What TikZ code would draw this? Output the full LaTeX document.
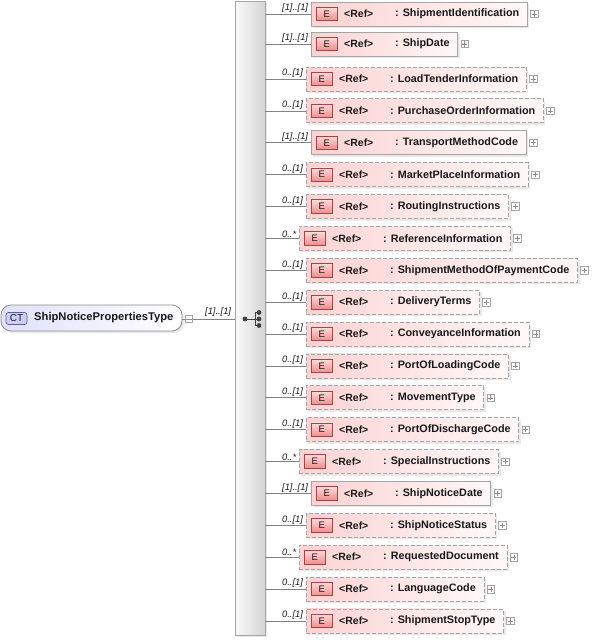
\documentclass[tikz,border=0pt]{standalone}
\usepackage{fontspec}
\setmainfont{Liberation Sans}
\usetikzlibrary{fit,shadows,calc}
\pgfdeclarelayer{bg}
\pgfsetlayers{bg,main}
\definecolor{boxL}{RGB}{252,210,210}
\definecolor{boxR}{RGB}{255,248,248}
\definecolor{boxline}{RGB}{165,165,165}
\definecolor{eline}{RGB}{160,70,70}
\definecolor{eTop}{RGB}{255,218,218}
\definecolor{eBot}{RGB}{238,140,140}
\definecolor{connc}{RGB}{130,130,130}
\definecolor{txt}{RGB}{25,25,25}
\definecolor{ctL}{RGB}{224,224,250}
\definecolor{ctIcon}{RGB}{205,205,245}
\definecolor{ctLine}{RGB}{95,95,150}
\definecolor{barL}{RGB}{250,250,250}
\definecolor{barR}{RGB}{212,212,212}
\tikzset{
  shad/.style={drop shadow={shadow xshift=2pt,shadow yshift=-2pt,fill=black!17}},
  elbox/.style={draw=boxline,line width=0.8pt,left color=boxL,right color=boxR,inner sep=0pt,shad},
  optbox/.style={elbox,dash pattern=on 4pt off 2pt},
  eicon/.style={draw=eline,line width=0.7pt,top color=eTop,bottom color=eBot,minimum width=21pt,minimum height=13.5pt,inner sep=0pt,font=\fontsize{9.5}{9.5}\selectfont,text=txt},
  reftxt/.style={font=\bfseries\fontsize{10.5}{12}\selectfont,text=txt,inner sep=0pt,anchor=west},
  nametxt/.style={font=\bfseries\fontsize{10.8}{12}\selectfont,text=txt,inner sep=0pt,anchor=west},
  cardtxt/.style={font=\itshape\fontsize{9.3}{10}\selectfont,text=txt,inner sep=0pt,anchor=south west},
  plusbox/.style={draw=boxline,fill=white,minimum size=7.5pt,inner sep=0pt,line width=0.6pt},
  plusline/.style={draw=black!45,line width=0.6pt},
  connline/.style={draw=connc,line width=0.7pt},
  barbox/.style={draw=black!35,line width=0.8pt,left color=barL,right color=barR,inner sep=0pt,shad},
  ctbox/.style={draw=black!45,line width=0.8pt,left color=ctL,right color=white,inner sep=0pt,rounded corners=10pt,shad},
  cticon/.style={draw=ctLine,line width=0.7pt,fill=ctIcon,rounded corners=2.5pt,minimum width=21pt,minimum height=12pt,inner sep=0pt,font=\fontsize{10}{10}\selectfont,text=txt},
  seqdot/.style={fill=black!75},
}
\begin{document}
\begin{tikzpicture}[x=1pt,y=-1pt]
\useasboundingbox (0,0) rectangle (592,641);
% sequence bar
\node[barbox,fit={(235,1)(265,635)}] (bar) {};
% sequence icon
\draw[black!75,line width=0.9pt] (245,319) -- (255,319) (255,312.5) -- (255,325.5)
  (255,312.5) -- (259,312.5) (255,325.5) -- (259,325.5) (255,319) -- (259,319);
\fill[seqdot] (245,319) circle (2.4) (259,312.5) circle (2.4) (259,319) circle (2.4) (259,325.5) circle (2.4);
% complex type node
\node[ctbox,fit={(1,305)(182,331)}] (ct) {};
\node[cticon] (cti) at (16.5,318.5) {CT};
\node[nametxt,font=\bfseries\fontsize{11.2}{12}\selectfont] (ctn) at (34,318) {ShipNoticePropertiesType};
\node[plusbox] (mn) at (189,319) {};
\draw[plusline] ($(mn.west)+(1.5,0)$) -- ($(mn.east)+(-1.5,0)$);
\draw[connline] (ct.east |- mn.west) -- (mn.west);
\draw[connline] (mn.east) -- (bar.west |- mn.east);
\node[cardtxt] (ctc) at (205,317) {[1]..[1]};
% child elements
\foreach \i/\card/\lx/\st/\nm in {
 1/{[1]..[1]}/311/elbox/ShipmentIdentification,
 2/{[1]..[1]}/311/elbox/ShipDate,
 3/{0..[1]}/306/optbox/LoadTenderInformation,
 4/{0..[1]}/306/optbox/PurchaseOrderInformation,
 5/{[1]..[1]}/311/elbox/TransportMethodCode,
 6/{0..[1]}/306/optbox/MarketPlaceInformation,
 7/{0..[1]}/306/optbox/RoutingInstructions,
 8/{0..*}/299/optbox/ReferenceInformation,
 9/{0..[1]}/306/optbox/ShipmentMethodOfPaymentCode,
 10/{0..[1]}/306/optbox/DeliveryTerms,
 11/{0..[1]}/306/optbox/ConveyanceInformation,
 12/{0..[1]}/306/optbox/PortOfLoadingCode,
 13/{0..[1]}/306/optbox/MovementType,
 14/{0..[1]}/306/optbox/PortOfDischargeCode,
 15/{0..*}/299/optbox/SpecialInstructions,
 16/{[1]..[1]}/311/elbox/ShipNoticeDate,
 17/{0..[1]}/306/optbox/ShipNoticeStatus,
 18/{0..*}/299/optbox/RequestedDocument,
 19/{0..[1]}/306/optbox/LanguageCode,
 20/{0..[1]}/306/optbox/ShipmentStopType}{
  \pgfmathsetmacro{\yy}{ifthenelse(\i==1,14,ifthenelse(\i==2,44,79+(\i-3)*31.88))}
  \node[nametxt] (n\i) at (\lx+84,\yy) {: \nm};
  \coordinate (tl\i) at (\lx,\yy-12);
  \coordinate (br\i) at ($(n\i.east)+(8,0)$);
  \coordinate (bb\i) at (\lx,\yy+12);
  \begin{pgfonlayer}{bg}
    \node[\st,fit=(tl\i)(br\i)(bb\i)] (b\i) {};
  \end{pgfonlayer}
  \node[eicon,anchor=west] (e\i) at (\lx+5,\yy) {E};
  \node[reftxt] (r\i) at (\lx+33,\yy) {<Ref>};
  \node[plusbox] (p\i) at ($(b\i.east)+(6.5,0)$) {};
  \draw[plusline] ($(p\i.west)+(1.5,0)$) -- ($(p\i.east)+(-1.5,0)$)
                  ($(p\i.north)+(0,1.5)$) -- ($(p\i.south)+(0,-1.5)$);
  \draw[connline] (bar.east |- b\i.west) -- (b\i.west);
  \node[cardtxt] (c\i) at (282,\yy-1) {\card};
}
\end{tikzpicture}
\end{document}
